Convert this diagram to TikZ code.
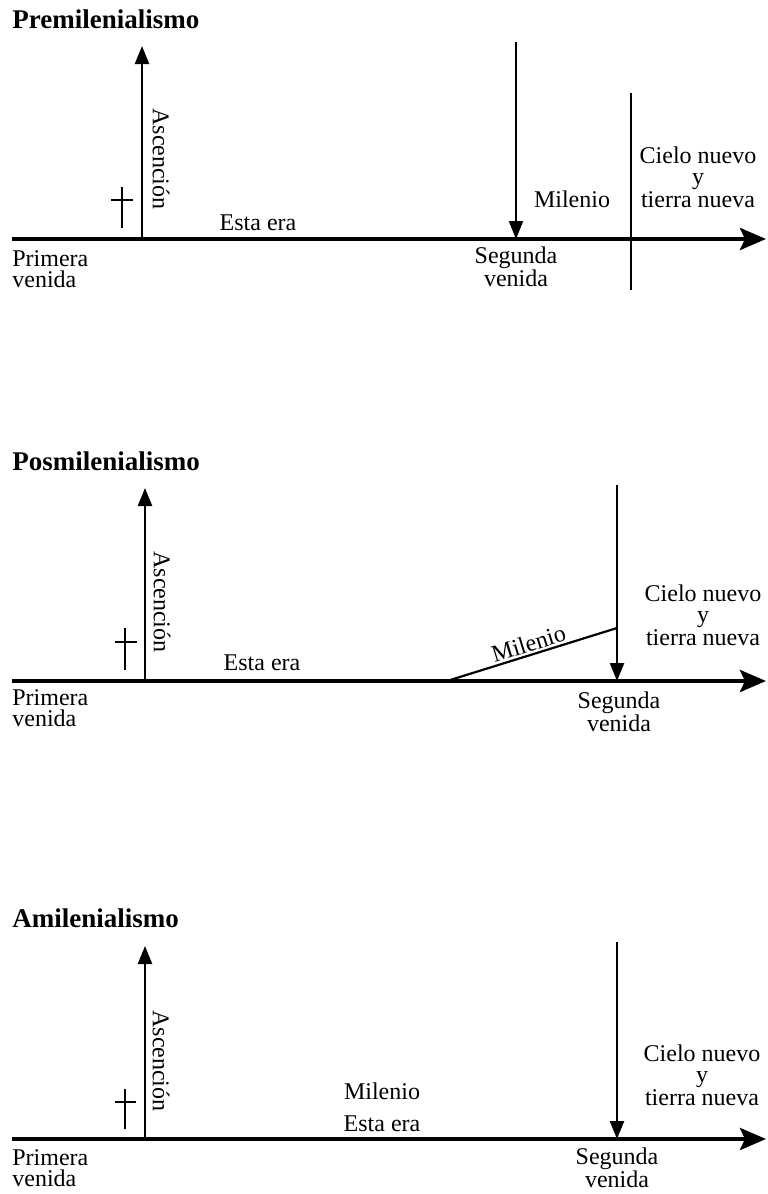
\documentclass[tikz,border=0pt]{standalone}
\usepackage{fontspec}
\setmainfont{Liberation Serif}
\usetikzlibrary{arrows.meta}

\begin{document}
\begin{tikzpicture}[x=0.5pt, y=-0.5pt,
  eje/.style={line width=2pt, -{Stealth[length=13pt,width=11pt,inset=2.5pt]}},
  flecha/.style={line width=1.2pt, -{Triangle[length=9pt,width=7pt]}},
  raya/.style={line width=1.1pt},
  txt/.style={font=\fontsize{12}{10.5}\selectfont, inner sep=0pt, align=center},
  titulo/.style={font=\fontsize{13.5}{16}\selectfont\bfseries, inner sep=0pt, anchor=base west},
]
  \useasboundingbox (0,0) rectangle (767,1194);

  % Premilenialismo
  \node[titulo] (t1) at (12,28) {Premilenialismo};
  \coordinate (e1a) at (12,239);
  \coordinate (e1b) at (766,239);
  \coordinate (a1) at (142,239);
  \coordinate (a1t) at (142,46);
  \coordinate (s1t) at (516,42);
  \coordinate (s1) at (516,239);
  \coordinate (v1t) at (631,93);
  \coordinate (v1b) at (631,290);
  \draw[eje] (e1a) -- (e1b);
  \draw[flecha] (a1) -- (a1t);
  \draw[flecha] (s1t) -- (s1);
  \draw[raya] (v1t) -- (v1b);
  \draw[raya] (122,187) -- (122,228) (111,200) -- (133,200);
  \node[txt, rotate=-90] (asc1) at (161,159) {Ascención};
  \node[txt, anchor=base] (era1) at (258,230) {Esta era};
  \node[txt, anchor=base] (mil1) at (572,207) {Milenio};
  \node[txt, anchor=north west, align=left] (pv1) at (12,250) {Primera\\venida};
  \node[txt, anchor=north] (sv1) at (516,246) {Segunda\\venida};
  \node[txt, anchor=north] (cn1) at (698,146) {Cielo nuevo\\y\\tierra nueva};

  % Posmilenialismo
  \node[titulo] (t2) at (12,470) {Posmilenialismo};
  \coordinate (e2a) at (12,681);
  \coordinate (e2b) at (766,681);
  \coordinate (a2) at (145,681);
  \coordinate (a2t) at (145,488);
  \coordinate (s2t) at (617,485);
  \coordinate (s2) at (617,681);
  \coordinate (m2a) at (447,681);
  \coordinate (m2b) at (617,628);
  \draw[eje] (e2a) -- (e2b);
  \draw[flecha] (a2) -- (a2t);
  \draw[flecha] (s2t) -- (s2);
  \draw[raya] (m2a) -- (m2b) node[midway, sloped, above=1pt, txt] (mil2) {Milenio};
  \draw[raya] (125,628) -- (125,670) (115,642) -- (137,642);
  \node[txt, rotate=-90] (asc2) at (162,602) {Ascención};
  \node[txt, anchor=base] (era2) at (262,670) {Esta era};
  \node[txt, anchor=north west, align=left] (pv2) at (12,689) {Primera\\venida};
  \node[txt, anchor=north] (sv2) at (619,691) {Segunda\\venida};
  \node[txt, anchor=north] (cn2) at (703,584) {Cielo nuevo\\y\\tierra nueva};

  % Amilenialismo
  \node[titulo] (t3) at (12,927) {Amilenialismo};
  \coordinate (e3a) at (12,1139);
  \coordinate (e3b) at (766,1139);
  \coordinate (a3) at (145,1139);
  \coordinate (a3t) at (145,946);
  \coordinate (s3t) at (617,942);
  \coordinate (s3) at (617,1139);
  \draw[eje] (e3a) -- (e3b);
  \draw[flecha] (a3) -- (a3t);
  \draw[flecha] (s3t) -- (s3);
  \draw[raya] (125,1089) -- (125,1129) (115,1102) -- (136,1102);
  \node[txt, rotate=-90] (asc3) at (161,1061) {Ascención};
  \node[txt, anchor=base] (mil3) at (382,1099) {Milenio};
  \node[txt, anchor=base] (era3) at (382,1131) {Esta era};
  \node[txt, anchor=north west, align=left] (pv3) at (12,1149) {Primera\\venida};
  \node[txt, anchor=north] (sv3) at (617,1147) {Segunda\\venida};
  \node[txt, anchor=north] (cn3) at (702,1044) {Cielo nuevo\\y\\tierra nueva};
\end{tikzpicture}
\end{document}
